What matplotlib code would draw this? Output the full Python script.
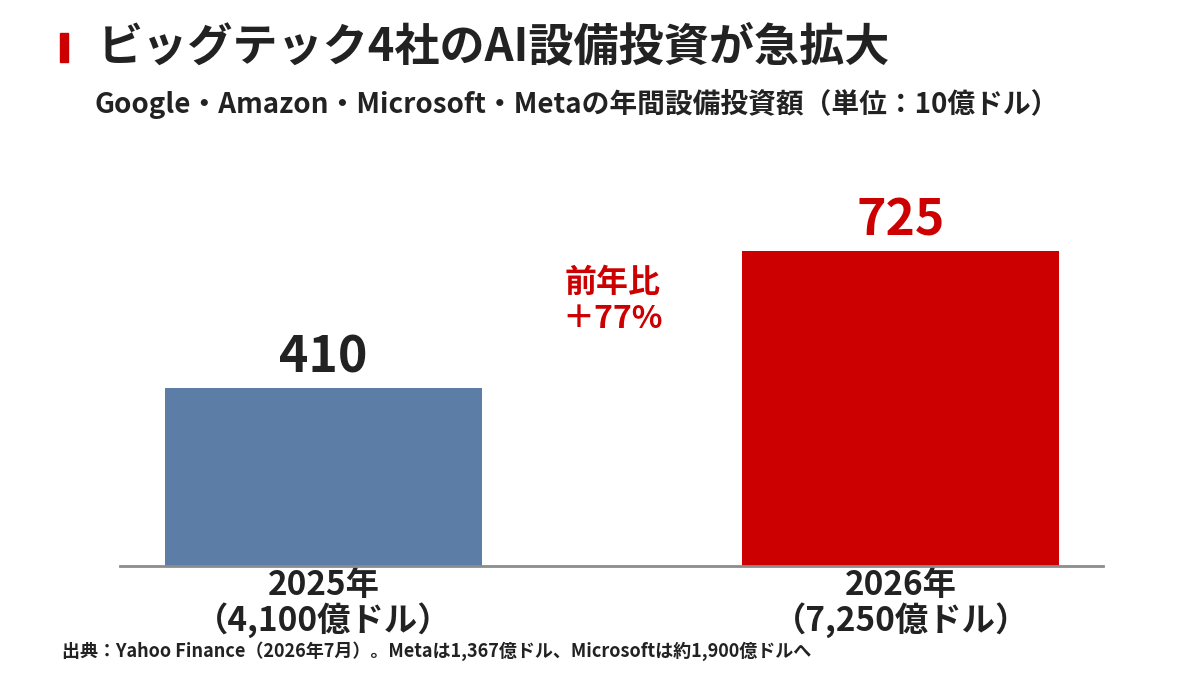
import matplotlib
matplotlib.use("Agg")
import matplotlib.pyplot as plt
from matplotlib.patches import Rectangle

plt.rcParams['font.family'] = ['Noto Sans CJK JP', 'DejaVu Sans']

years = ['2025年\n（4,100億ドル）', '2026年\n（7,250億ドル）']
capex = [410, 725]
bar_colors = ['#5b7da6', '#cc0000']
label_colors = ['#222222', '#cc0000']

W, H = 1200, 675
fig = plt.figure(figsize=(12, 6.75), dpi=100)

# axes placed so baseline sits at y=566px, x from 120 to 1103 px
ax = fig.add_axes([120 / W, (H - 566) / H, 983 / W, 434.5 / H])
x = [0, 1]
ax.bar(x, capex, width=0.549, color=bar_colors, zorder=2)
ax.set_xlim(-0.3524, 1.35)
ax.set_ylim(0, 1000)
for s in ['top', 'right', 'left']:
    ax.spines[s].set_visible(False)
ax.spines['bottom'].set_color('#8c8c8c')
ax.spines['bottom'].set_linewidth(2)
ax.set_yticks([])
ax.set_xticks(x)
ax.set_xticklabels(years, fontsize=24, fontweight='bold', color='#222222', linespacing=1.0)
ax.tick_params(axis='x', length=0, pad=2)

for xi, v, c in zip(x, capex, label_colors):
    ax.text(xi, v + 10, str(v), ha='center', va='bottom', fontsize=36,
            fontweight='bold', color=c)

ax.text(0.5, 610, '前年比\n＋77%', ha='center', va='center', fontsize=23,
        fontweight='bold', color='#cc0000', linespacing=1.15)

# title block
fig.patches.append(Rectangle((60 / W, (H - 62) / H), 8 / W, 29 / H,
                             transform=fig.transFigure, color='#cc0000'))
fig.text(98 / W, 1 - 47 / H, 'ビッグテック4社のAI設備投資が急拡大', ha='left', va='center',
         fontsize=32.5, fontweight='bold', color='#222222')
fig.text(95 / W, 1 - 104 / H, 'Google・Amazon・Microsoft・Metaの年間設備投資額（単位：10億ドル）',
         ha='left', va='center', fontsize=20, fontweight='bold', color='#222222')

fig.text(62 / W, 1 - 651 / H,
         '出典：Yahoo Finance（2026年7月）。Metaは1,367億ドル、Microsoftは約1,900億ドルへ',
         ha='left', va='center', fontsize=13, fontweight='bold', color='#222222')

fig.savefig('out.png', dpi=100)
